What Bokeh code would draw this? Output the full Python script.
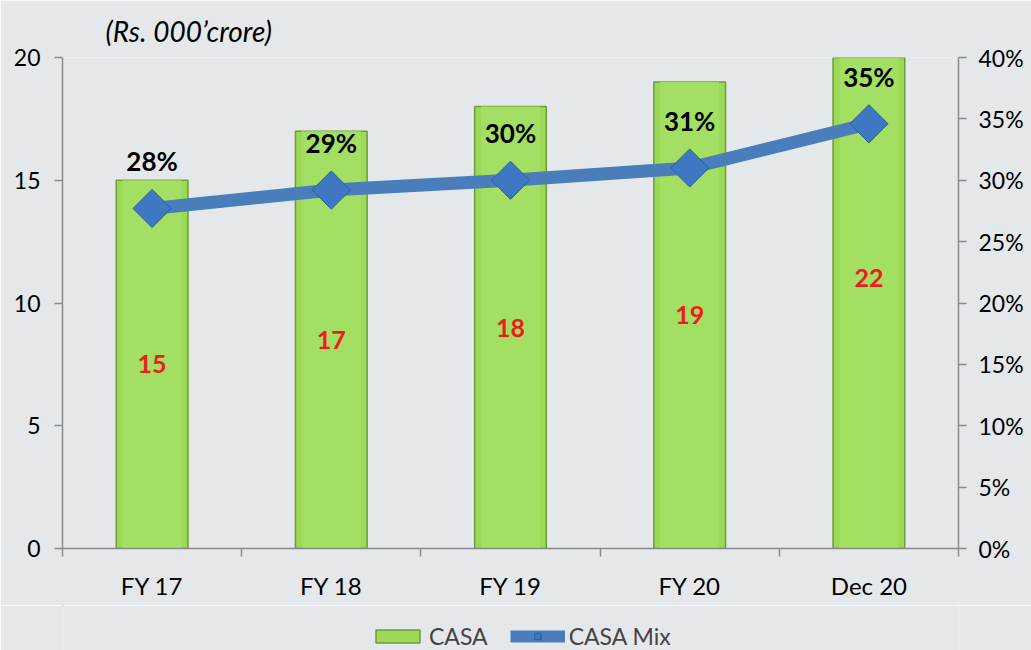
from bokeh.plotting import figure
from bokeh.layouts import column
from bokeh.models import (Range1d, LinearAxis, FixedTicker, NumeralTickFormatter,
                          ColumnDataSource, Legend, LegendItem, LabelSet, Title)
from bokeh.core.properties import value
from bokeh.embed import file_html
from bokeh.resources import INLINE
import math

categories = ["FY 17", "FY 18", "FY 19", "FY 20", "Dec 20"]
casa = [15, 17, 18, 19, 22]
casa_labels = ["15", "17", "18", "19", "22"]
casa_mix = [0.277, 0.292, 0.300, 0.310, 0.346]
casa_mix_labels = ["28%", "29%", "30%", "31%", "35%"]
series_names = ["CASA", "CASA Mix"]

FONT = "Lato"
BG = "#e5e8eb"
AXIS_C = "#8a8a8a"
BAR_FILL, BAR_LINE = "#9bd957", "#6e9c38"
LINE_C, MARK_FILL, MARK_LINE = "#4a7ebb", "#3f78c2", "#2d5c9a"

xs = [i + 0.5 for i in range(len(categories))]

src = ColumnDataSource(dict(
    x=xs, casa=casa, half=[v / 2 for v in casa], casa_lbl=casa_labels,
    mix=casa_mix, mix_lbl=casa_mix_labels,
))

main = figure(width=1031, height=605, output_backend="svg", toolbar_location=None,
              x_range=Range1d(0, len(categories)), y_range=Range1d(0, 20),
              min_border_left=62, min_border_right=73, min_border_top=57,
              min_border_bottom=57)
main.background_fill_color = BG
main.border_fill_color = BG
main.outline_line_color = None
main.grid.visible = False
main.extra_y_ranges = {"pct": Range1d(0, 0.4)}

main.title = Title(text="(Rs. 000’crore)", text_font=FONT, text_font_style="italic",
                   text_font_size="28px", align="left", offset=43, standoff=20,
                   text_color="black")

main.vbar(x="x", top="casa", width=0.4, source=src,
          fill_color=BAR_FILL, line_color=BAR_LINE, line_width=1.5)
main.vbar(x="x", top="casa", width=0.33, source=src,
          fill_color="#a3df62", line_color=None)

main.line(x="x", y="mix", source=src, y_range_name="pct",
          line_color=LINE_C, line_width=13)
main.scatter(x="x", y="mix", source=src, y_range_name="pct",
             marker="square", size=27, angle=math.pi / 4,
             fill_color=MARK_FILL, line_color=MARK_LINE, line_width=1)

main.add_layout(LabelSet(x="x", y="mix", text="mix_lbl", source=src, y_range_name="pct",
                         y_offset=47, text_align="center", text_baseline="middle",
                         text_font=value(FONT), text_font_style="bold",
                         text_font_size="26px", text_color="black"))
main.add_layout(LabelSet(x="x", y="half", text="casa_lbl", source=src,
                         text_align="center", text_baseline="middle",
                         text_font=value(FONT), text_font_style="bold",
                         text_font_size="25px", text_color="#ee1c1c"))

ya = main.yaxis[0]
ya.ticker = FixedTicker(ticks=[0, 5, 10, 15, 20])
ya.major_tick_in = 0
ya.major_tick_out = 8

right = LinearAxis(y_range_name="pct", ticker=FixedTicker(ticks=[i * 0.05 for i in range(9)]),
                   formatter=NumeralTickFormatter(format="0%"))
right.major_tick_in = 0
right.major_tick_out = 8
main.add_layout(right, "right")

xa = main.xaxis[0]
xa.ticker = FixedTicker(ticks=xs, minor_ticks=list(range(len(categories) + 1)))
xa.major_label_overrides = {x: c for x, c in zip(xs, categories)}
xa.minor_tick_in = 0
xa.minor_tick_out = 8

for ax in (ya, right, xa):
    ax.axis_line_color = AXIS_C
    ax.axis_line_width = 1.5
    ax.major_tick_line_color = AXIS_C if ax is not xa else None
    ax.minor_tick_line_color = AXIS_C if ax is xa else None
    ax.major_tick_line_width = 1.5
    ax.minor_tick_line_width = 1.5
    ax.major_label_text_font = FONT
    ax.major_label_text_font_size = "23px"
    ax.major_label_text_color = "black"
xa.major_label_text_font_size = "24px"
ya.major_label_standoff = 14
right.major_label_standoff = 12
xa.major_label_standoff = 14

# legend strip below the chart (frame aligned with the main chart's frame)
leg = figure(width=1031, height=45, output_backend="svg", toolbar_location=None,
             x_range=Range1d(0, 1), y_range=Range1d(0, 1),
             min_border_left=62, min_border_right=73,
             min_border_top=0, min_border_bottom=0)
leg.background_fill_color = BG
leg.border_fill_color = BG
leg.outline_line_color = None
leg.axis.visible = False
leg.grid.visible = False
lb = leg.vbar(x=[-10], bottom=[8], top=[9], width=0.4, fill_color=BAR_FILL,
              line_color=BAR_LINE, line_width=1.5)
ll = leg.line(x=[-10, -9], y=[8, 8], line_color=LINE_C, line_width=12)
lm = leg.scatter(x=[-10], y=[8], marker="square", size=14, angle=math.pi / 4,
                 fill_color=MARK_FILL, line_color=MARK_LINE)
legend = Legend(items=[LegendItem(label=series_names[0], renderers=[lb]),
                       LegendItem(label=series_names[1], renderers=[ll, lm])],
                orientation="horizontal", location=(308, 0),
                glyph_width=55, glyph_height=16, label_standoff=4, spacing=22,
                padding=0, margin=0, background_fill_alpha=0, border_line_alpha=0,
                label_text_font=FONT, label_text_font_size="23px")
leg.add_layout(legend, "center")

p = column(main, leg, spacing=0)
open("out.html", "w").write(file_html(p, INLINE))
